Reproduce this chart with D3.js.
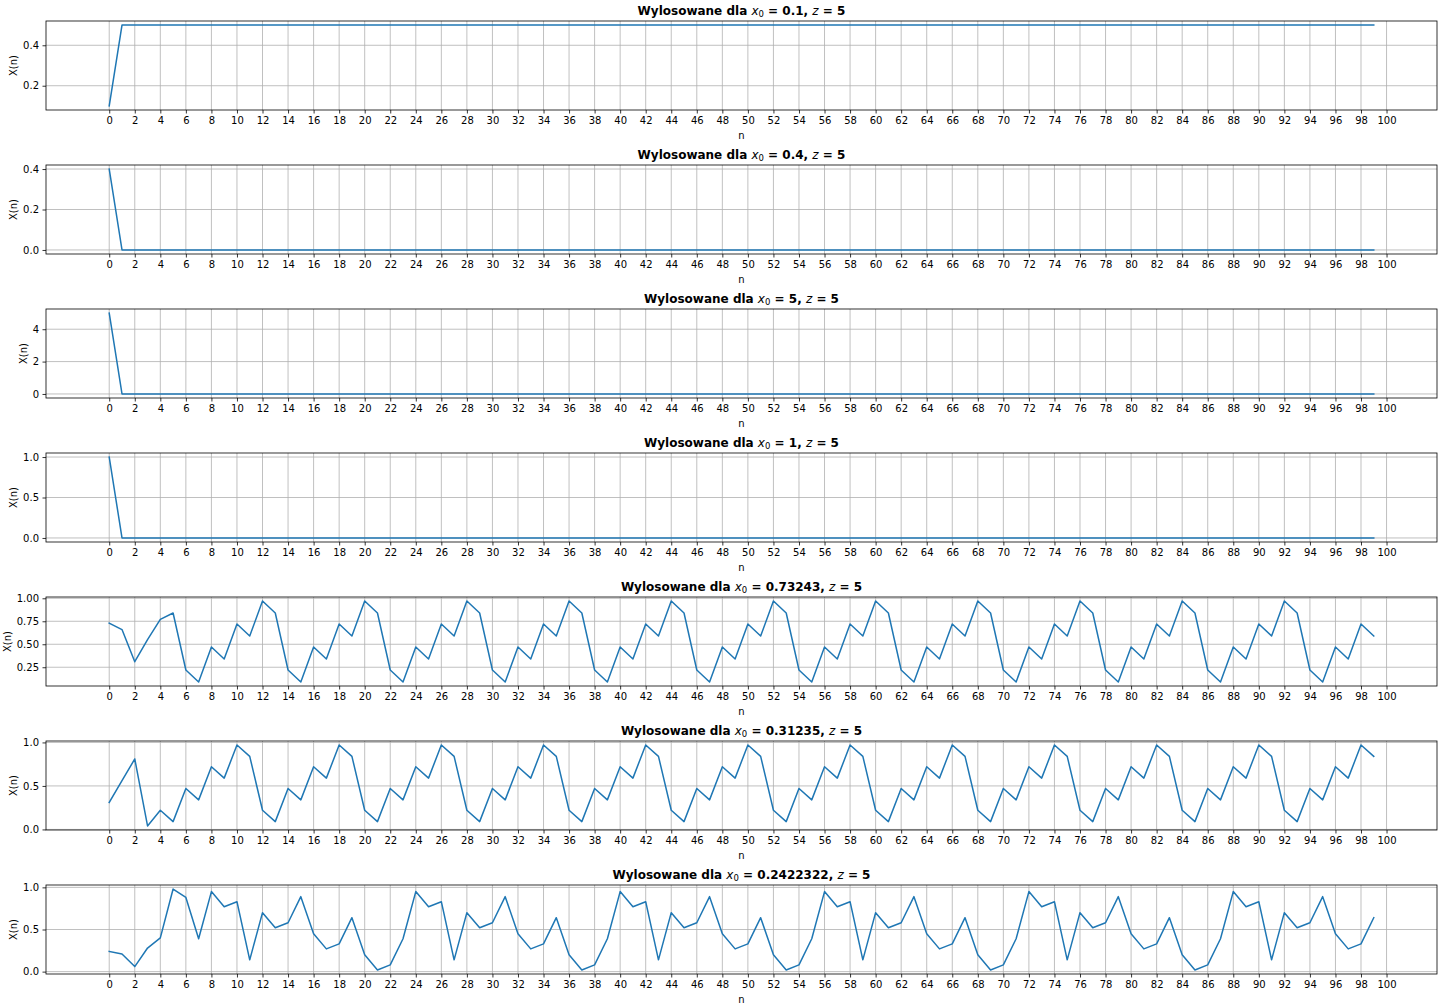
<!DOCTYPE html>
<html><head><meta charset="utf-8">
<script src="https://cdn.jsdelivr.net/npm/d3@7"></script>
<style>
body{margin:0;background:#fff;}
svg{display:block;font-family:"DejaVu Sans",sans-serif;}
</style></head><body>
<svg id="chart" width="1440" height="1008"></svg>
<script>
const x0Labels = ["0.1", "0.4", "5", "1", "0.73243", "0.31235", "0.2422322"];
const zValue = "5";
const xTicks = [0,2,4,6,8,10,12,14,16,18,20,22,24,26,28,30,32,34,36,38,40,42,44,46,48,50,52,54,56,58,60,62,64,66,68,70,72,74,76,78,80,82,84,86,88,90,92,94,96,98,100];

const series1 = [0.1,0.5,0.5,0.5,0.5,0.5,0.5,0.5,0.5,0.5,
 0.5,0.5,0.5,0.5,0.5,0.5,0.5,0.5,0.5,0.5,
 0.5,0.5,0.5,0.5,0.5,0.5,0.5,0.5,0.5,0.5,
 0.5,0.5,0.5,0.5,0.5,0.5,0.5,0.5,0.5,0.5,
 0.5,0.5,0.5,0.5,0.5,0.5,0.5,0.5,0.5,0.5,
 0.5,0.5,0.5,0.5,0.5,0.5,0.5,0.5,0.5,0.5,
 0.5,0.5,0.5,0.5,0.5,0.5,0.5,0.5,0.5,0.5,
 0.5,0.5,0.5,0.5,0.5,0.5,0.5,0.5,0.5,0.5,
 0.5,0.5,0.5,0.5,0.5,0.5,0.5,0.5,0.5,0.5,
 0.5,0.5,0.5,0.5,0.5,0.5,0.5,0.5,0.5,0.5];
const series2 = [0.4,0,0,0,0,0,0,0,0,0,
 0,0,0,0,0,0,0,0,0,0, 0,0,0,0,0,0,0,0,0,0,
 0,0,0,0,0,0,0,0,0,0, 0,0,0,0,0,0,0,0,0,0,
 0,0,0,0,0,0,0,0,0,0, 0,0,0,0,0,0,0,0,0,0,
 0,0,0,0,0,0,0,0,0,0, 0,0,0,0,0,0,0,0,0,0,
 0,0,0,0,0,0,0,0,0,0];
const series3 = [5,0,0,0,0,0,0,0,0,0,
 0,0,0,0,0,0,0,0,0,0, 0,0,0,0,0,0,0,0,0,0,
 0,0,0,0,0,0,0,0,0,0, 0,0,0,0,0,0,0,0,0,0,
 0,0,0,0,0,0,0,0,0,0, 0,0,0,0,0,0,0,0,0,0,
 0,0,0,0,0,0,0,0,0,0, 0,0,0,0,0,0,0,0,0,0,
 0,0,0,0,0,0,0,0,0,0];
const series4 = [1,0,0,0,0,0,0,0,0,0,
 0,0,0,0,0,0,0,0,0,0, 0,0,0,0,0,0,0,0,0,0,
 0,0,0,0,0,0,0,0,0,0, 0,0,0,0,0,0,0,0,0,0,
 0,0,0,0,0,0,0,0,0,0, 0,0,0,0,0,0,0,0,0,0,
 0,0,0,0,0,0,0,0,0,0, 0,0,0,0,0,0,0,0,0,0,
 0,0,0,0,0,0,0,0,0,0];
const series5 = [0.73,0.66,0.31,0.55,0.77,0.84,0.22,0.09,0.47,0.34,
 0.72,0.59,0.97,0.84,0.22,0.09,0.47,0.34,0.72,0.59,
 0.97,0.84,0.22,0.09,0.47,0.34,0.72,0.59,0.97,0.84,
 0.22,0.09,0.47,0.34,0.72,0.59,0.97,0.84,0.22,0.09,
 0.47,0.34,0.72,0.59,0.97,0.84,0.22,0.09,0.47,0.34,
 0.72,0.59,0.97,0.84,0.22,0.09,0.47,0.34,0.72,0.59,
 0.97,0.84,0.22,0.09,0.47,0.34,0.72,0.59,0.97,0.84,
 0.22,0.09,0.47,0.34,0.72,0.59,0.97,0.84,0.22,0.09,
 0.47,0.34,0.72,0.59,0.97,0.84,0.22,0.09,0.47,0.34,
 0.72,0.59,0.97,0.84,0.22,0.09,0.47,0.34,0.72,0.59];
const series6 = [0.31,0.56,0.81,0.04,0.22,0.09,0.47,0.34,0.72,0.59,
 0.97,0.84,0.22,0.09,0.47,0.34,0.72,0.59,0.97,0.84,
 0.22,0.09,0.47,0.34,0.72,0.59,0.97,0.84,0.22,0.09,
 0.47,0.34,0.72,0.59,0.97,0.84,0.22,0.09,0.47,0.34,
 0.72,0.59,0.97,0.84,0.22,0.09,0.47,0.34,0.72,0.59,
 0.97,0.84,0.22,0.09,0.47,0.34,0.72,0.59,0.97,0.84,
 0.22,0.09,0.47,0.34,0.72,0.59,0.97,0.84,0.22,0.09,
 0.47,0.34,0.72,0.59,0.97,0.84,0.22,0.09,0.47,0.34,
 0.72,0.59,0.97,0.84,0.22,0.09,0.47,0.34,0.72,0.59,
 0.97,0.84,0.22,0.09,0.47,0.34,0.72,0.59,0.97,0.84];
const series7 = [0.24,0.21,0.06,0.28,0.40,0.98,0.88,0.39,0.95,0.77,
 0.83,0.14,0.70,0.52,0.58,0.89,0.45,0.27,0.33,0.64,
 0.20,0.02,0.08,0.39,0.95,0.77,0.83,0.14,0.70,0.52,
 0.58,0.89,0.45,0.27,0.33,0.64,0.20,0.02,0.08,0.39,
 0.95,0.77,0.83,0.14,0.70,0.52,0.58,0.89,0.45,0.27,
 0.33,0.64,0.20,0.02,0.08,0.39,0.95,0.77,0.83,0.14,
 0.70,0.52,0.58,0.89,0.45,0.27,0.33,0.64,0.20,0.02,
 0.08,0.39,0.95,0.77,0.83,0.14,0.70,0.52,0.58,0.89,
 0.45,0.27,0.33,0.64,0.20,0.02,0.08,0.39,0.95,0.77,
 0.83,0.14,0.70,0.52,0.58,0.89,0.45,0.27,0.33,0.64];

const yTicksList = [
  [0.2, 0.4],
  [0.0, 0.2, 0.4],
  [0, 2, 4],
  [0.0, 0.5, 1.0],
  [0.25, 0.50, 0.75, 1.00],
  [0.0, 0.5, 1.0],
  [0.0, 0.5, 1.0]
];
const yTickFormats = [".1f", ".1f", "d", ".1f", ".2f", ".1f", ".1f"];
const allSeries = [series1, series2, series3, series4, series5, series6, series7];

const svg = d3.select("#chart");
const left = 46, right = 1437, firstTop = 21, step = 144, h = 89;
const color = "#1f77b4";

allSeries.forEach((data, i) => {
  const top = firstTop + i * step, bottom = top + h;
  const xMin = 0, xMax = data.length - 1, xPad = (xMax - xMin) * 0.05;
  const x = d3.scaleLinear().domain([xMin - xPad, xMax + xPad]).range([left, right]);
  const [yMin, yMax] = d3.extent(data);
  const yPad = (yMax - yMin) * 0.05;
  const y = d3.scaleLinear().domain([yMin - yPad, yMax + yPad]).range([bottom, top]);
  const g = svg.append("g");

  // grid
  g.append("g").selectAll("line").data(xTicks).join("line")
    .attr("x1", d => x(d)).attr("x2", d => x(d)).attr("y1", top).attr("y2", bottom)
    .attr("stroke", "#b0b0b0").attr("stroke-width", 0.8);
  g.append("g").selectAll("line").data(yTicksList[i]).join("line")
    .attr("x1", left).attr("x2", right).attr("y1", d => y(d)).attr("y2", d => y(d))
    .attr("stroke", "#b0b0b0").attr("stroke-width", 0.8);

  // line
  const line = d3.line().x((d, k) => x(k)).y(d => y(d));
  g.append("path").datum(data).attr("d", line)
    .attr("fill", "none").attr("stroke", color).attr("stroke-width", 1.5)
    .attr("stroke-linejoin", "round").attr("stroke-linecap", "square");

  // axes
  const xAxis = d3.axisBottom(x).tickValues(xTicks).tickSize(3.5).tickPadding(3.5).tickFormat(d3.format("d"));
  const gx = g.append("g").attr("transform", `translate(0,${bottom})`).call(xAxis);
  const yAxis = d3.axisLeft(y).tickValues(yTicksList[i]).tickSize(3.5).tickPadding(3.5).tickFormat(d3.format(yTickFormats[i]));
  const gy = g.append("g").attr("transform", `translate(${left},0)`).call(yAxis);
  [gx, gy].forEach(a => {
    a.select(".domain").remove();
    a.attr("font-family", null).attr("font-size", null);
    a.selectAll(".tick line").attr("stroke", "#000").attr("stroke-width", 0.8);
    a.selectAll(".tick text").attr("font-size", 10).attr("fill", "#000").attr("font-family", "DejaVu Sans");
  });

  // frame
  g.append("rect").attr("x", left).attr("y", top).attr("width", right - left).attr("height", h)
    .attr("fill", "none").attr("stroke", "#000").attr("stroke-width", 0.8);

  // labels
  g.append("text").attr("x", (left + right) / 2).attr("y", bottom + 29)
    .attr("text-anchor", "middle").attr("font-size", 10).text("n");
  let minLeft = left;
  gy.selectAll(".tick text").each(function() {
    const b = this.getBBox();
    const m = this.getCTM();
    const lx = b.x + m.e;
    if (lx < minLeft) minLeft = lx;
  });
  g.append("text").attr("transform", `translate(${minLeft - 6},${(top + bottom) / 2}) rotate(-90)`)
    .attr("text-anchor", "middle").attr("font-size", 10).text("X(n)");

  // title
  const t = g.append("text").attr("x", (left + right) / 2).attr("y", top - 6)
    .attr("text-anchor", "middle").attr("font-size", 12).attr("font-weight", "bold");
  t.append("tspan").text("Wylosowane dla ");
  t.append("tspan").attr("font-style", "italic").attr("font-weight", "normal").text("x");
  t.append("tspan").attr("font-weight", "normal").attr("font-size", 8.5).attr("dy", 2).text("0");
  t.append("tspan").attr("dy", -2).text(" = " + x0Labels[i] + ", ");
  t.append("tspan").attr("font-style", "italic").attr("font-weight", "normal").text("z");
  t.append("tspan").text(" = " + zValue);
});
</script>
</body></html>
